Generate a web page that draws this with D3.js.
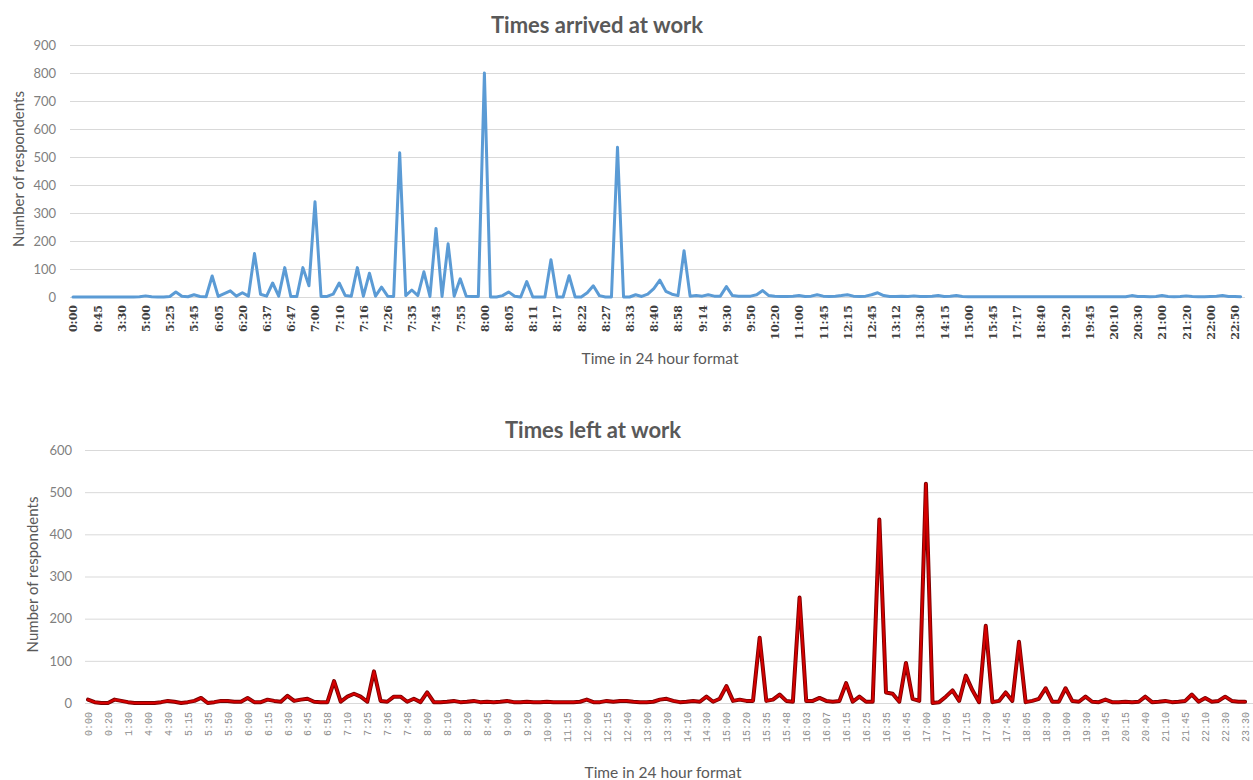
<!DOCTYPE html>
<html>
<head>
<meta charset="utf-8">
<script src="https://cdn.jsdelivr.net/npm/d3@7"></script>
<style>
  body { margin: 0; background: #fff; }
  svg text { font-family: Lato, "Open Sans", sans-serif; }
</style>
</head>
<body>
<div id="chart"></div>
<script>
// arrival times: one value per category, only every 4th category is labelled
const arrivedTicks = ["0:00","0:45","3:30","5:00","5:25","5:45","6:05","6:20","6:37","6:47",
  "7:00","7:10","7:16","7:26","7:35","7:45","7:55","8:00","8:05","8:11","8:17","8:22","8:27",
  "8:33","8:40","8:58","9:14","9:30","9:50","10:20","11:00","11:45","12:15","12:45","13:12",
  "13:30","14:15","15:00","15:45","17:17","18:40","19:20","19:45","20:10","20:30","21:00",
  "21:20","22:00","22:50"];
const arrivedValues = [
  0,0,0,0,0,0,0,0,0,0,0,1,4,1,0,0,2,18,3,1,
  8,2,1,75,2,12,22,3,15,3,155,10,3,50,3,105,2,2,105,40,
  340,2,2,10,50,5,3,105,3,85,3,35,3,2,515,5,25,5,90,2,
  245,2,190,3,65,3,2,2,800,0,0,5,18,3,0,55,0,0,0,133,
  0,0,76,0,0,15,40,5,0,0,535,0,0,8,2,10,30,60,20,10,
  5,165,3,5,3,8,3,3,37,5,3,3,3,8,23,5,3,2,2,3,
  5,2,3,8,3,2,3,5,8,3,2,3,8,15,5,2,2,3,2,4,
  2,2,3,5,2,3,5,2,1,1,1,1,1,1,1,1,1,1,1,1,
  1,1,1,1,1,1,1,1,1,1,1,1,1,1,1,5,2,2,1,2,
  5,2,1,2,4,2,1,1,2,3,5,2,2,1];

// departure times: every 3rd category is labelled
const leftTicks = ["0:00","0:20","1:30","4:00","4:30","5:15","5:35","5:50","6:00","6:15",
  "6:30","6:45","6:58","7:10","7:25","7:36","7:48","8:00","8:10","8:20","8:45","9:00","9:20",
  "10:00","11:15","12:00","12:15","12:40","13:00","13:30","14:10","14:30","15:00","15:20",
  "15:35","15:48","16:03","16:07","16:15","16:25","16:35","16:45","17:00","17:05","17:15",
  "17:30","17:45","18:05","18:30","19:00","19:30","19:45","20:15","20:40","21:10","21:45",
  "22:10","22:30","23:30"];
const leftValues = [
  8,2,0,0,8,5,2,0,0,0,0,2,5,3,0,2,5,12,0,2,
  5,5,3,3,12,2,2,8,5,3,17,5,8,10,3,2,2,52,3,15,
  22,15,3,75,5,3,15,15,3,10,2,25,2,2,3,5,2,3,5,2,
  3,2,3,5,2,2,3,2,2,3,2,2,2,2,3,8,2,2,5,3,
  5,5,3,2,2,3,8,10,5,2,3,5,3,15,3,10,40,5,8,5,
  5,155,5,8,20,5,3,250,5,5,12,5,3,5,47,3,15,3,3,435,
  25,22,3,95,10,5,520,0,2,15,30,5,65,30,2,183,2,5,25,5,
  145,2,5,10,35,3,3,35,5,3,15,3,2,8,2,2,3,2,3,15,
  2,3,5,2,3,5,20,3,12,3,5,15,5,3,3];

const svg = d3.select("#chart")
  .append("svg")
  .attr("width", 1253)
  .attr("height", 780);

function drawChart(cfg) {
  let n = cfg.values.length;

  let x = d3.scalePoint()
    .domain(d3.range(n))
    .range([cfg.x0, cfg.x0 + cfg.step * (n - 1)]);

  let y = d3.scaleLinear()
    .domain([0, cfg.yMax])
    .range([cfg.base, cfg.top]);

  let yTicks = d3.range(0, cfg.yMax + 1, 100);

  // gridlines
  svg.append("g")
    .attr("transform", `translate(${cfg.gridX0},0)`)
    .call(d3.axisLeft(y).tickValues(yTicks).tickSize(-(cfg.gridX1 - cfg.gridX0)).tickFormat(""))
    .call(g => g.select(".domain").remove())
    .selectAll("line")
    .attr("stroke", "#d9d9d9");

  // y axis labels
  svg.append("g")
    .attr("transform", `translate(${cfg.gridX0},0)`)
    .call(d3.axisLeft(y).tickValues(yTicks).tickSize(0).tickPadding(cfg.yPad))
    .call(g => g.select(".domain").remove())
    .selectAll("text")
    .style("font-family", "Lato, sans-serif")
    .style("font-size", "13px")
    .attr("fill", "#7f7f7f");

  // x axis, rotated labels
  svg.append("g")
    .attr("transform", `translate(0,${cfg.base})`)
    .call(d3.axisBottom(x)
      .tickValues(d3.range(0, n, cfg.every))
      .tickFormat(d => cfg.ticks[d / cfg.every])
      .tickSize(0))
    .call(g => g.select(".domain").remove())
    .selectAll("text")
    .attr("transform", "rotate(-90)")
    .attr("x", -cfg.xGap)
    .attr("y", 0)
    .attr("dy", "0.35em")
    .style("text-anchor", "end")
    .style("font-family", cfg.xFont)
    .style("font-weight", cfg.xWeight)
    .style("font-size", cfg.xSize)
    .attr("fill", cfg.xColor);

  let line = d3.line()
    .x((d, i) => x(i))
    .y(d => y(d));

  cfg.strokes.forEach(s => {
    svg.append("path")
      .datum(cfg.values)
      .attr("fill", "none")
      .attr("stroke", s.color)
      .attr("stroke-width", s.width)
      .attr("stroke-linejoin", "round")
      .attr("stroke-linecap", "round")
      .attr("d", line);
  });

  // title
  svg.append("text")
    .attr("x", cfg.titleX)
    .attr("y", cfg.titleY)
    .attr("text-anchor", "middle")
    .style("font-size", "22px")
    .style("font-weight", "bold")
    .attr("fill", "#595959")
    .text(cfg.title);

  // y title
  svg.append("text")
    .attr("transform", `translate(${cfg.yTitleX},${(cfg.base + cfg.top) / 2 - 2}) rotate(-90)`)
    .attr("text-anchor", "middle")
    .style("font-size", "15px")
    .attr("fill", "#595959")
    .text("Number of respondents");

  // x title
  svg.append("text")
    .attr("x", cfg.xTitleX)
    .attr("y", cfg.xTitleY)
    .attr("text-anchor", "middle")
    .style("font-size", "15.5px")
    .attr("fill", "#595959")
    .text("Time in 24 hour format");
}

drawChart({
  values: arrivedValues, ticks: arrivedTicks, every: 4,
  x0: 73, step: 6.05, base: 297, top: 45, yMax: 900,
  gridX0: 70, gridX1: 1245, yPad: 14,
  xGap: 8, xFont: "'DejaVu Serif', serif", xWeight: "bold", xSize: "11px", xColor: "#404040",
  strokes: [{ color: "#5b9bd5", width: 3 }],
  title: "Times arrived at work", titleX: 597, titleY: 33,
  yTitleX: 24, xTitleX: 660, xTitleY: 364
});

drawChart({
  values: leftValues, ticks: leftTicks, every: 3,
  x0: 88, step: 6.65, base: 703, top: 450, yMax: 600,
  gridX0: 85, gridX1: 1253, yPad: 13,
  xGap: 9, xFont: "'Liberation Mono', monospace", xWeight: "normal", xSize: "10px", xColor: "#8c8c8c",
  strokes: [{ color: "#7a0000", width: 4 }, { color: "#d40000", width: 2.2 }],
  title: "Times left at work", titleX: 593, titleY: 438,
  yTitleX: 38, xTitleX: 663, xTitleY: 778
});
</script>
</body>
</html>
